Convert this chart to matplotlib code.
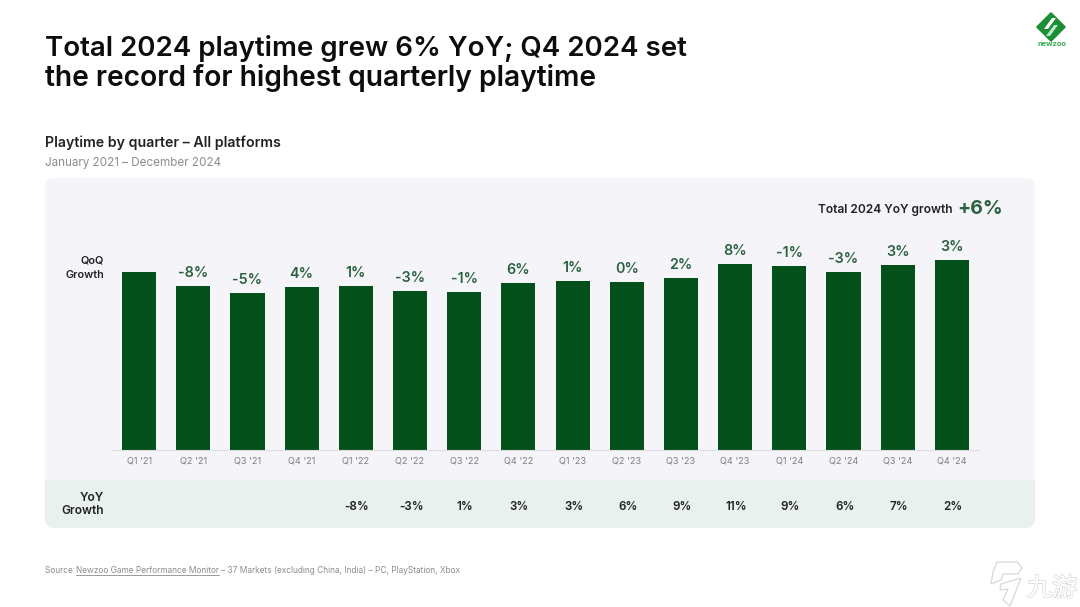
import matplotlib
matplotlib.use("Agg")
import matplotlib.pyplot as plt
from matplotlib.patches import FancyBboxPatch, Polygon, Rectangle
from matplotlib.transforms import blended_transform_factory
import matplotlib.patheffects as pe

plt.rcParams['font.family'] = ['Inter', 'Noto Sans CJK SC', 'DejaVu Sans']

quarters = ["Q1 '21", "Q2 '21", "Q3 '21", "Q4 '21", "Q1 '22", "Q2 '22", "Q3 '22", "Q4 '22",
            "Q1 '23", "Q2 '23", "Q3 '23", "Q4 '23", "Q1 '24", "Q2 '24", "Q3 '24", "Q4 '24"]
# no value axis in the picture, so this is bar height in relative units
playtime = [178, 164, 157, 163, 164, 159, 158, 167, 169, 168, 172, 186, 184, 178, 185, 190]
qoq = ["", "-8%", "-5%", "4%", "1%", "-3%", "-1%", "6%", "1%", "0%", "2%", "8%", "-1%", "-3%", "3%", "3%"]
yoy = ["", "", "", "", "-8%", "-3%", "1%", "3%", "3%", "6%", "9%", "11%", "9%", "6%", "7%", "2%"]

GREEN = "#04501a"
LABEL = "#2c6240"

fig = plt.figure(figsize=(10.8, 6.07), dpi=100, facecolor="white")

# background layer in pixel coords
bg = fig.add_axes([0, 0, 1, 1])
bg.set_xlim(0, 1080)
bg.set_ylim(607, 0)
bg.axis("off")

panel = FancyBboxPatch((45, 178), 990, 350, boxstyle="round,pad=0,rounding_size=9",
                       fc="#f4f4f9", ec="none")
bg.add_patch(panel)
strip = Rectangle((45, 480), 990, 48, fc="#e8f1ee", ec="none")
bg.add_patch(strip)
strip.set_clip_path(panel)

bg.text(45, 48, "Total 2024 playtime grew 6% YoY; Q4 2024 set", fontsize=19.9, fontweight="semibold",
        color="#0d0d0d", va="center")
bg.text(45, 78, "the record for highest quarterly playtime", fontsize=20.3, fontweight="semibold",
        color="#0d0d0d", va="center")
bg.text(45, 143, "Playtime by quarter – All platforms", fontsize=10.2, fontweight="semibold",
        color="#222222", va="center")
bg.text(45, 163, "January 2021 – December 2024", fontsize=8.4, color="#8c8c8c", va="center")

bg.text(104, 261, "QoQ", fontsize=7.8, fontweight="semibold", color="#222222", ha="right", va="center")
bg.text(104, 275, "Growth", fontsize=7.8, fontweight="semibold", color="#222222", ha="right", va="center")
bg.text(104, 498, "YoY", fontsize=8.6, fontweight="semibold", color="#222222", ha="right", va="center")
bg.text(104, 511.5, "Growth", fontsize=8.6, fontweight="semibold", color="#222222", ha="right", va="center")

bg.text(953, 209.5, "Total 2024 YoY growth", fontsize=8.6, fontweight="semibold", color="#222222",
        ha="right", va="center")
bg.text(1003, 209.5, "+6%", fontsize=14, fontweight="bold", color=LABEL, ha="right", va="center")

bg.text(45, 570.5, "Source: ", fontsize=6, color="#8c8c8c", va="center")
bg.text(76, 570.5, "Newzoo Game Performance Monitor", fontsize=6, color="#8c8c8c", va="center")
bg.plot([76, 219], [574.5, 574.5], color="#8c8c8c", lw=0.6)
bg.text(221, 570.5, "– 37 Markets (excluding China, India) – PC, PlayStation, Xbox", fontsize=6,
        color="#8c8c8c", va="center")

# logo
bg.add_patch(Polygon([[1051, 13], [1065, 27], [1051, 41], [1037, 27]], fc="#1a8f35", ec="#1a8f35",
                     lw=1.2, joinstyle="round"))
bg.add_patch(Polygon([[1044, 29], [1052, 18], [1056, 18], [1048, 29]], fc="white", ec="none"))
bg.add_patch(Polygon([[1046, 36], [1054, 25], [1058, 25], [1050, 36]], fc="#bfe6c6", ec="none"))
bg.text(1051.5, 44.5, "newzoo", fontsize=5.4, fontweight="bold", color="#37a955", ha="center", va="center")

# watermark
bg.text(1027, 589, "九游", fontsize=18, style="italic", color="white", va="center", ha="left",
        path_effects=[pe.withStroke(linewidth=1.0, foreground="#cfcfcf"), pe.Normal()])
bg.add_patch(Polygon([[997, 562], [1017, 562], [1022, 568], [1018, 574], [1003, 574], [1001, 580],
                      [991, 584], [993, 572]], fc="none", ec="#d8d8d8", lw=0.9))
bg.add_patch(Polygon([[1001, 584], [1021, 578], [1010, 606], [1003, 600], [1008, 589], [1000, 590]],
                     fc="none", ec="#d8d8d8", lw=0.9))

# bars
ax = fig.add_axes([112 / 1080, (607 - 450) / 607, (979 - 112) / 1080, 272 / 607])
ax.patch.set_visible(False)
x = list(range(len(quarters)))
ax.bar(x, playtime, width=0.63, color=GREEN)
ax.set_xlim(-0.5, 15.5)
ax.set_ylim(0, 272)
ax.set_xticks(x, quarters, fontsize=6.6, color="#808080")
ax.tick_params(axis="x", length=0, pad=4.5)
ax.set_yticks([])
for s in ["top", "left", "right"]:
    ax.spines[s].set_visible(False)
ax.spines["bottom"].set_color("#dcdce2")

for i, lab in enumerate(qoq):
    if lab:
        ax.annotate(lab, (i, playtime[i]), xytext=(0, 4.6), textcoords="offset points", ha="center",
                    va="bottom", fontsize=10.3, fontweight="semibold", color=LABEL)

# yoy row sits at a fixed pixel height below the axis
trans = blended_transform_factory(ax.transData, bg.transData)
for i, lab in enumerate(yoy):
    if lab:
        ax.text(i + 0.02, 506.5, lab, transform=trans, ha="center", va="center", fontsize=8.4,
                fontweight="semibold", color="#222222", clip_on=False)

fig.savefig("out.png", dpi=100)
